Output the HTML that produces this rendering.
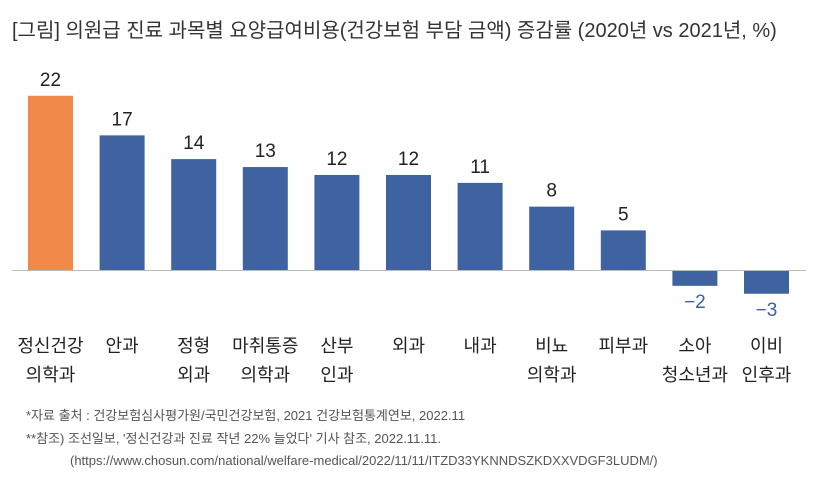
<!DOCTYPE html>
<html><head><meta charset="utf-8">
<style>
body{margin:0;background:#fff;width:835px;height:490px;overflow:hidden;font-family:"Liberation Sans","Noto Sans CJK KR",sans-serif;}
svg text{font-family:"Liberation Sans","Noto Sans CJK KR",sans-serif;}
</style></head><body>
<svg width="835" height="490">
<text x="12" y="37" font-size="20" fill="#333">[그림] 의원급 진료 과목별 요양급여비용(건강보험 부담 금액) 증감률 (2020년 vs 2021년, %)</text>
<g id="bars"></g>
<line x1="12" x2="806" y1="270.5" y2="270.5" stroke="#bbb" stroke-width="1"/>
<g id="labels"></g>
<text x="26" y="420" font-size="13" fill="#555">*자료 출처 : 건강보험심사평가원/국민건강보험, 2021 건강보험통계연보, 2022.11</text>
<text x="26" y="443" font-size="13" fill="#555">**참조) 조선일보, '정신건강과 진료 작년 22% 늘었다' 기사 참조, 2022.11.11.</text>
<text x="70" y="465" font-size="13" fill="#555">(https://www.chosun.com/national/welfare-medical/2022/11/11/ITZD33YKNNDSZKDXXVDGF3LUDM/)</text>
</svg>
<script>
const categories=[["정신건강","의학과"],["안과"],["정형","외과"],["마취통증","의학과"],["산부","인과"],["외과"],["내과"],["비뇨","의학과"],["피부과"],["소아","청소년과"],["이비","인후과"]];
const values=[22,17,14,13,12,12,11,8,5,-2,-3];
const valueLabels=["22","17","14","13","12","12","11","8","5","−2","−3"];
const NS="http://www.w3.org/2000/svg";
const base=270,scale=7.92,x0=28,step=71.6,bw=45;
const xPos=i=>x0+i*step;
const yPos=v=>base-v*scale;
const gb=document.getElementById('bars'),gl=document.getElementById('labels');
values.forEach((v,i)=>{
 const r=document.createElementNS(NS,'rect');
 r.setAttribute('x',xPos(i));r.setAttribute('width',bw);
 r.setAttribute('y',Math.min(yPos(v),base));r.setAttribute('height',Math.abs(v*scale));
 r.setAttribute('fill',i===0?'#f0894a':'#3f62a0');
 
 
 gb.appendChild(r);
 const t=document.createElementNS(NS,'text');
 t.setAttribute('x',xPos(i)+bw/2);
 t.setAttribute('y',v>=0?yPos(v)-10:yPos(v)+22);
 t.setAttribute('text-anchor','middle');t.setAttribute('font-size','19');
 t.setAttribute('fill',v>=0?'#222':'#3f62a0');
 t.textContent=valueLabels[i];
 
 
 gl.appendChild(t);
 categories[i].forEach((line,j)=>{
  const c=document.createElementNS(NS,'text');
  c.setAttribute('x',xPos(i)+bw/2);c.setAttribute('y',352+j*29);
  c.setAttribute('text-anchor','middle');c.setAttribute('font-size','18');c.setAttribute('fill','#222');
  c.textContent=line;
  
  
  gl.appendChild(c);
 });
});
</script>
</body></html>
